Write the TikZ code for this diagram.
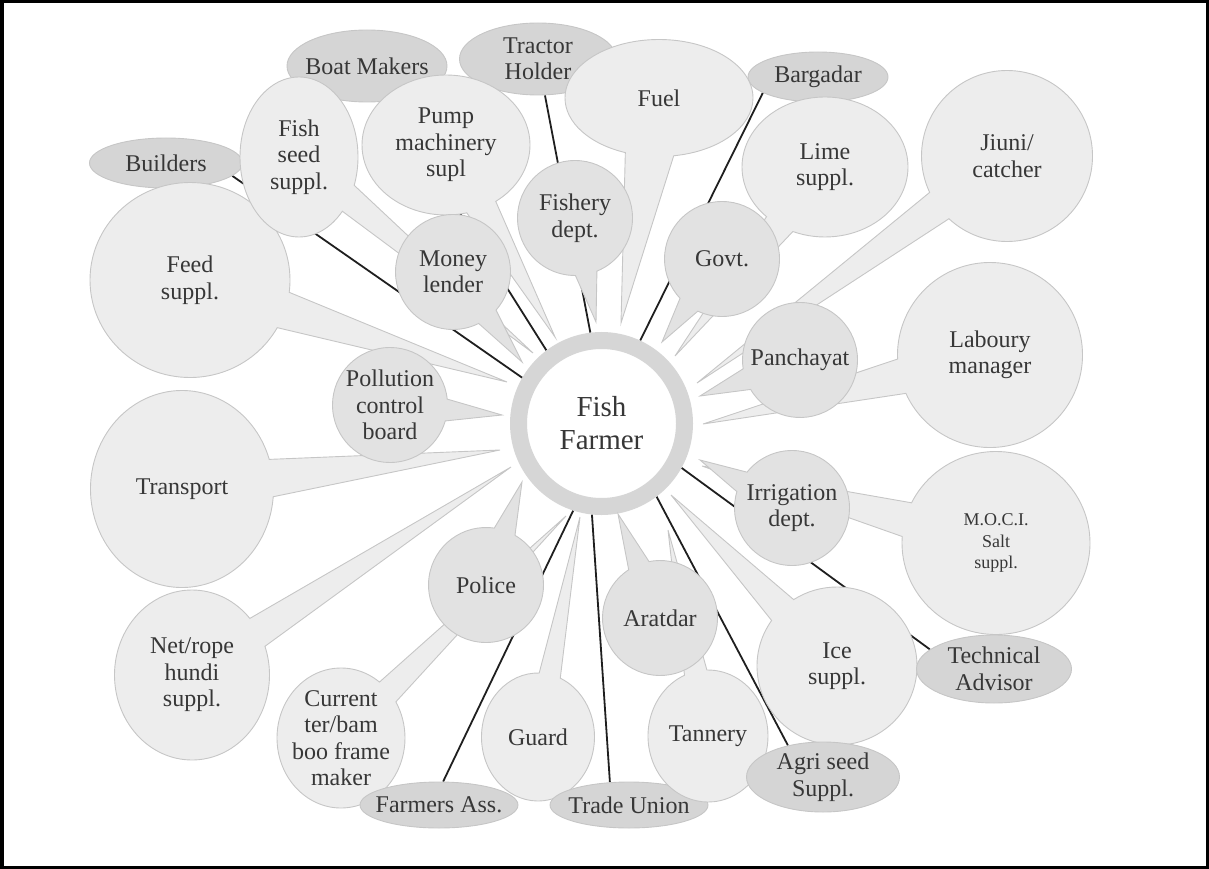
\documentclass[tikz,border=0pt]{standalone}
\usepackage{fontspec}
\setmainfont{Liberation Serif}
\usetikzlibrary{shapes.callouts,shapes.geometric,backgrounds}

\definecolor{bubblefill}{RGB}{237,237,237}
\definecolor{officefill}{RGB}{226,226,226}
\definecolor{linkfill}{RGB}{213,213,213}
\definecolor{bubbleline}{RGB}{198,198,198}
\definecolor{ringgray}{RGB}{214,214,214}
\definecolor{labelgray}{RGB}{55,55,55}

\tikzset{
  bubble/.style={ellipse callout, draw=bubbleline, fill=bubblefill, line width=0.9pt,
    inner sep=-9pt, callout pointer arc=22, text=labelgray, align=center,
    font=\fontsize{24}{26.5}\selectfont},
  office/.style={bubble, fill=officefill, callout pointer arc=22,
    minimum width=115pt, minimum height=115pt},
  link/.style={ellipse, draw=bubbleline, fill=linkfill, line width=0.9pt,
    inner sep=-9pt, text=labelgray, align=center, font=\fontsize{24}{26.5}\selectfont},
  tie/.style={line width=1.8pt, black!88},
}

\begin{document}
\begin{tikzpicture}[x=1pt, y=-1pt]
  \useasboundingbox (0,0) rectangle (1209,869);
  \draw[line width=3.5pt] (1.75,1.75) rectangle (1207.25,867.25);

  % centre
  \node[circle, draw=ringgray, line width=17pt, fill=white, minimum size=166pt,
    text=labelgray, align=center, font=\fontsize{29}{33}\selectfont] (ff) at (601.5,423.5) {Fish\\Farmer};

  % links at the back
  \node[link, minimum width=160pt, minimum height=72pt] (boat) at (367,66) {Boat Makers};
  \node[link, minimum width=153pt, minimum height=50pt] (builders) at (166,163) {Builders};
  \node[link, minimum width=157pt, minimum height=72pt] (tractor) at (538,59) {Tractor\\Holder};
  \node[link, minimum width=140pt, minimum height=50pt] (bargadar) at (818,77) {Bargadar};

  % suppliers and others
  \node[bubble, minimum width=200pt, minimum height=195pt, callout absolute pointer={(507,382)}] (feed) at (190,280) {Feed\\suppl.};
  \node[bubble, minimum width=118pt, minimum height=160pt, callout absolute pointer={(533,353)}] (fishseed) at (299,157) {Fish\\seed\\suppl.};
  \node[bubble, minimum width=168pt, minimum height=140pt, callout absolute pointer={(555,337)}] (pump) at (446,145) {Pump\\machinery\\supl};
  \node[bubble, minimum width=188pt, minimum height=117pt, callout pointer arc=30, callout absolute pointer={(621,323)}] (fuel) at (659,98) {Fuel};
  \node[bubble, minimum width=166pt, minimum height=140pt, callout absolute pointer={(675,356)}] (lime) at (825,167) {Lime\\suppl.};
  \node[bubble, minimum size=171pt, callout absolute pointer={(697,383)}] (jiuni) at (1007,156) {Jiuni/\\catcher};
  \node[bubble, minimum size=185pt, callout absolute pointer={(703,424)}] (labour) at (990,355) {Laboury\\manager};
  \node[bubble, minimum width=188pt, minimum height=183pt, callout absolute pointer={(702,466)},
    font=\fontsize{18}{21.5}\selectfont] (moci) at (996,543) {M.O.C.I.\\Salt\\suppl.};
  \node[bubble, minimum width=183pt, minimum height=197pt, callout absolute pointer={(500,450)}] (transport) at (182,489) {Transport};
  \node[bubble, minimum width=155pt, minimum height=170pt, callout absolute pointer={(511,467)}] (netrope) at (192,675) {Net/rope\\hundi\\suppl.};
  \node[bubble, minimum width=128pt, minimum height=140pt, callout absolute pointer={(566,516)}] (frame) at (341,738) {Current\\ter/bam\\boo frame\\maker};
  \node[bubble, minimum width=113pt, minimum height=128pt, callout absolute pointer={(580,517)}] (guard) at (538,737) {Guard};
  \node[link, minimum width=158pt, minimum height=46pt] (union) at (629,805) {Trade Union};
  \node[bubble, minimum width=120pt, minimum height=132pt, callout absolute pointer={(668,530)}] (tannery) at (708,736) {Tannery};
  \node[bubble, minimum width=160pt, minimum height=158pt, callout absolute pointer={(671,495)}] (ice) at (837,666) {Ice\\suppl.};

  % offices
  \node[office, callout absolute pointer={(522,362)}] (money) at (453,272) {Money\\lender};
  \node[office, callout absolute pointer={(596,322)}] (fishery) at (575,218) {Fishery\\dept.};
  \node[office, callout absolute pointer={(662,342)}] (govt) at (722,259) {Govt.};
  \node[office, callout absolute pointer={(700,396)}] (panchayat) at (800,360) {Panchayat};
  \node[office, callout absolute pointer={(502,415)}] (pollution) at (390,405) {Pollution\\control\\board};
  \node[office, callout absolute pointer={(522,482)}] (police) at (486,585) {Police};
  \node[office, callout absolute pointer={(618,514)}] (aratdar) at (660,618) {Aratdar};
  \node[office, callout absolute pointer={(700,460)}] (irrigation) at (792,508) {Irrigation\\dept.};

  % links in front
  \node[link, minimum width=158pt, minimum height=46pt] (farmers) at (439,805) {Farmers Ass.};
  \node[link, minimum width=153pt, minimum height=70pt] (agri) at (823,777) {Agri seed\\Suppl.};
  \node[link, minimum width=155pt, minimum height=68pt] (tech) at (994,669) {Technical\\Advisor};

  \begin{scope}[on background layer]
    \path (builders.-11) edge[tie] (ff.150)
      (boat) edge[tie] (ff.127)
      (tractor) edge[tie] (ff.97)
      (bargadar.-164) edge[tie] (ff.65)
      (tech.163) edge[tie] (ff.-29)
      (agri.138) edge[tie] (ff.-53)
      (union.130) edge[tie] (ff.-96)
      (farmers.80) edge[tie] (ff.-108);
  \end{scope}
\end{tikzpicture}
\end{document}
